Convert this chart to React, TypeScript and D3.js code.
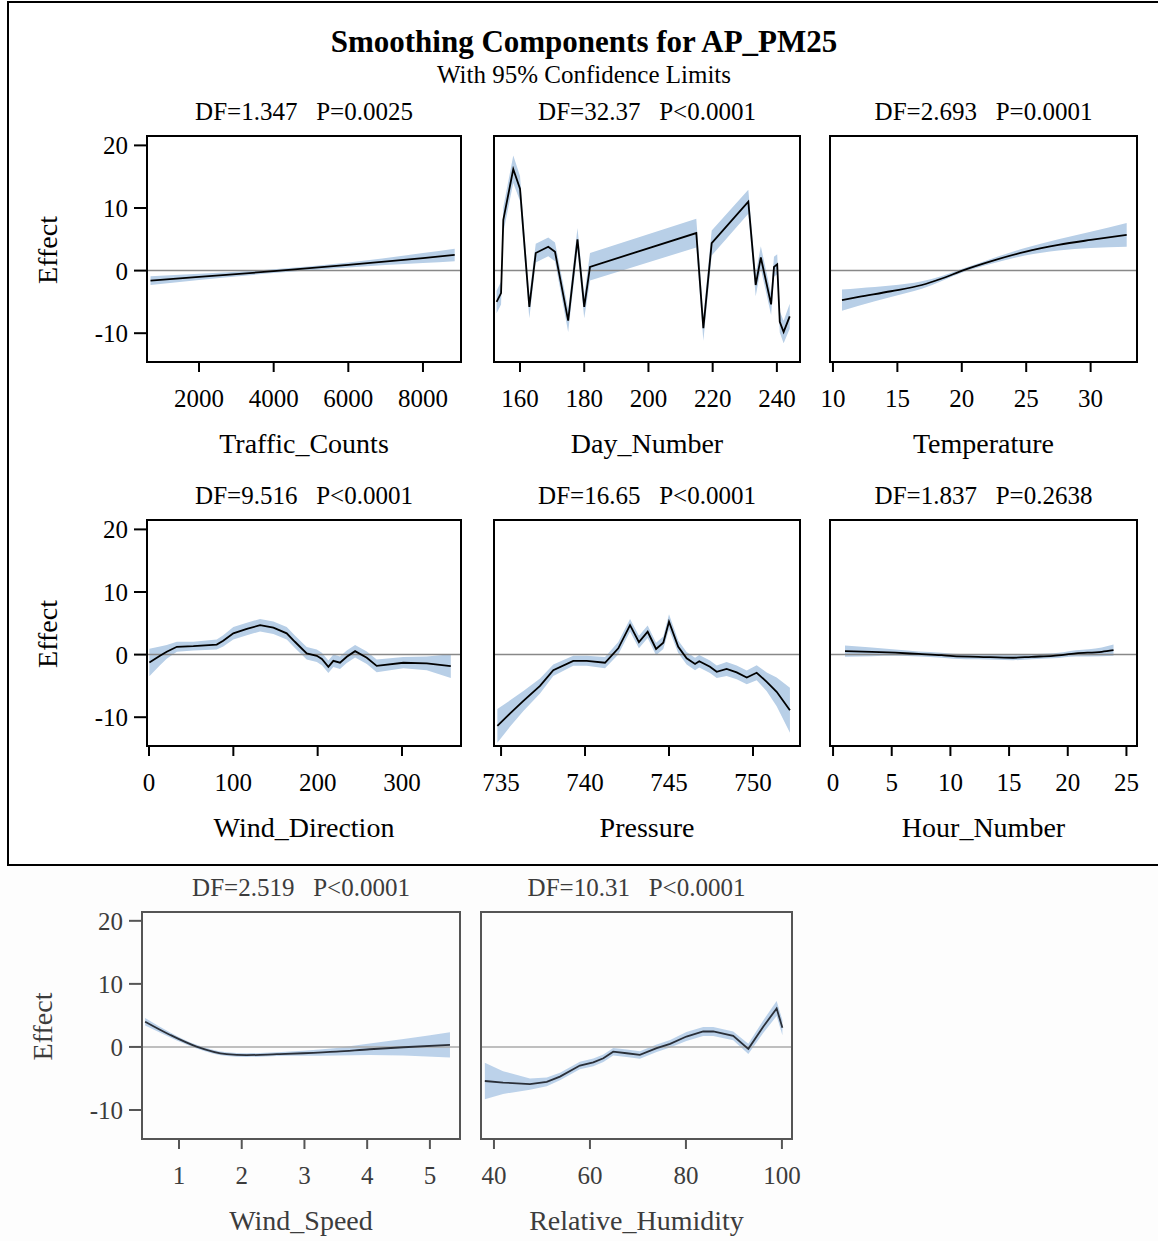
import React from "react";
import * as d3 from "d3";

// ---------- data ----------
const trafficX = [700, 2000, 4000, 6000, 8000, 8850];
const trafficY = [-1.6, -1.0, -0.1, 0.9, 2.0, 2.5];
const trafficCI = [0.7, 0.5, 0.3, 0.4, 0.8, 1.0];

const dayX = [152.7, 154.1, 154.8, 157.9, 160, 162.9, 164.9, 168.8, 170.9, 175, 177.9, 180, 181.8, 214.9, 217.1, 219.7, 231.1, 233.4, 235, 238.2, 239.1, 240.1, 240.9, 242.1, 244];
const dayY = [-5, -3.6, 8.1, 16.2, 13.1, -5.8, 2.8, 3.8, 3.0, -8.0, 5.0, -5.8, 0.6, 6.0, -9.2, 4.4, 11.0, -2.3, 2.1, -5.4, 0.6, 1.0, -8.2, -9.8, -7.3];
const dayCI = [1.8, 1.8, 2, 2.2, 2, 1.8, 1.5, 1.5, 1.5, 1.8, 1.8, 1.8, 2.2, 2.3, 2, 2, 1.9, 1.8, 1.8, 1.7, 1.6, 1.6, 1.7, 1.8, 2.0];

const tempX = [10.7, 12.0, 14.5, 16.9, 18.4, 20.2, 22.3, 24.9, 27.5, 30.0, 32.8];
const tempY = [-4.7, -4.2, -3.3, -2.3, -1.3, 0.1, 1.5, 3.0, 4.1, 4.9, 5.7];
const tempCI = [1.7, 1.4, 0.9, 0.6, 0.4, 0.3, 0.4, 0.6, 0.9, 1.3, 1.9];

const windDirX = [0.4, 13, 21, 33, 52.6, 80.3, 88, 100, 116, 131.7, 147.5, 163.3, 173, 187, 199, 205, 212.7, 218.6, 226.5, 234.5, 244.4, 258.3, 270, 301.7, 329.4, 357.9];
const windDirY = [-1.25, -0.2, 0.45, 1.25, 1.35, 1.6, 2.2, 3.4, 4.1, 4.7, 4.3, 3.4, 2.05, 0.2, -0.2, -0.7, -1.95, -1.0, -1.3, -0.35, 0.55, -0.5, -1.8, -1.3, -1.4, -1.85];
const windDirCI = [2.2, 1.5, 1.1, 0.8, 0.7, 0.8, 0.9, 1.0, 1.0, 1.0, 1.0, 1.0, 1.0, 1.0, 1.0, 1.0, 1.0, 1.0, 1.0, 1.0, 1.0, 1.0, 1.0, 0.9, 1.1, 1.9];

const pressX = [734.78, 735.54, 736.33, 737.32, 738.11, 739.3, 740.1, 741.19, 741.98, 742.68, 743.21, 743.73, 744.23, 744.66, 745, 745.55, 746.05, 746.55, 746.8, 747.44, 747.84, 748.43, 749.03, 749.63, 750.22, 750.82, 751.41, 752.2];
const pressY = [-11.4, -9.4, -7.4, -5.0, -2.5, -1.0, -1.0, -1.3, 1.0, 4.7, 2.0, 3.65, 0.9, 1.9, 5.25, 1.25, -0.6, -1.5, -1.05, -1.95, -2.75, -2.3, -2.85, -3.65, -2.9, -4.35, -5.95, -8.9];
const pressCI = [2.7, 2.1, 1.6, 1.2, 0.9, 0.8, 0.8, 0.9, 1.0, 1.0, 1.0, 1.0, 1.0, 1.0, 1.2, 1.0, 1.0, 1.0, 1.0, 1.0, 1.0, 1.1, 1.1, 1.1, 1.2, 1.5, 2.3, 3.6];

const hourX = [1.02, 3.3, 5.3, 7.3, 9.25, 10.25, 12.4, 15.35, 16.9, 18.75, 20.7, 22.9, 23.9];
const hourY = [0.55, 0.45, 0.3, 0.1, -0.1, -0.25, -0.35, -0.5, -0.35, -0.2, 0.2, 0.45, 0.7];
const hourCI = [0.9, 0.7, 0.5, 0.4, 0.4, 0.4, 0.4, 0.4, 0.4, 0.4, 0.5, 0.7, 0.9];

const windSpX = [0.46, 0.86, 1.28, 1.76, 2.08, 2.56, 2.98, 3.51, 4.04, 4.58, 5.32];
const windSpY = [4.0, 1.9, 0.05, -1.15, -1.3, -1.15, -1.0, -0.75, -0.37, -0.05, 0.32];
const windSpCI = [0.6, 0.4, 0.3, 0.3, 0.3, 0.3, 0.4, 0.6, 0.9, 1.3, 2.0];

const humX = [38.1, 41.9, 47.5, 51.0, 53.75, 57.9, 60.7, 62.8, 64.85, 67.65, 70.4, 73.9, 76.7, 80.1, 83.6, 85.7, 89.85, 93.0, 96.1, 98.9, 100.1];
const humY = [-5.4, -5.65, -5.9, -5.55, -4.7, -2.95, -2.45, -1.8, -0.75, -1.0, -1.27, -0.2, 0.5, 1.65, 2.45, 2.45, 1.75, -0.3, 3.2, 6.1, 3.05];
const humCI = [2.9, 1.8, 0.9, 0.7, 0.6, 0.6, 0.6, 0.6, 0.6, 0.6, 0.6, 0.6, 0.6, 0.7, 0.7, 0.7, 0.7, 0.8, 1.0, 1.2, 1.2];

const yTickValues = [-10, 0, 10, 20];

// ---------- layout ----------
type Panel = {
  left: number; right: number; top: number; bottom: number;
  xDomain: [number, number]; yDomain: [number, number];
  xTicks: number[]; xs: number[]; ys: number[]; ci: number[];
  df: string; xlabel: string; faded?: boolean; showY?: boolean; smooth?: boolean;
};

const FONT = "'Liberation Serif', 'Times New Roman', serif";

const panels: Panel[] = [
  { left: 147, right: 461, top: 136, bottom: 362, xDomain: [606, 9019], yDomain: [-14.6, 21.5], xTicks: [2000, 4000, 6000, 8000], xs: trafficX, ys: trafficY, ci: trafficCI, df: "DF=1.347   P=0.0025", xlabel: "Traffic_Counts", showY: true, smooth: true },
  { left: 494, right: 800, top: 136, bottom: 362, xDomain: [151.9, 247.2], yDomain: [-14.6, 21.5], xTicks: [160, 180, 200, 220, 240], xs: dayX, ys: dayY, ci: dayCI, df: "DF=32.37   P<0.0001", xlabel: "Day_Number" },
  { left: 830, right: 1137, top: 136, bottom: 362, xDomain: [9.77, 33.6], yDomain: [-14.6, 21.5], xTicks: [10, 15, 20, 25, 30], xs: tempX, ys: tempY, ci: tempCI, df: "DF=2.693   P=0.0001", xlabel: "Temperature", smooth: true },
  { left: 147, right: 461, top: 520, bottom: 746, xDomain: [-2.4, 370], yDomain: [-14.6, 21.5], xTicks: [0, 100, 200, 300], xs: windDirX, ys: windDirY, ci: windDirCI, df: "DF=9.516   P<0.0001", xlabel: "Wind_Direction", showY: true },
  { left: 494, right: 800, top: 520, bottom: 746, xDomain: [734.58, 752.8], yDomain: [-14.6, 21.5], xTicks: [735, 740, 745, 750], xs: pressX, ys: pressY, ci: pressCI, df: "DF=16.65   P<0.0001", xlabel: "Pressure" },
  { left: 830, right: 1137, top: 520, bottom: 746, xDomain: [-0.26, 25.9], yDomain: [-14.6, 21.5], xTicks: [0, 5, 10, 15, 20, 25], xs: hourX, ys: hourY, ci: hourCI, df: "DF=1.837   P=0.2638", xlabel: "Hour_Number", smooth: true },
  { left: 142, right: 460, top: 912, bottom: 1139, xDomain: [0.41, 5.48], yDomain: [-14.6, 21.4], xTicks: [1, 2, 3, 4, 5], xs: windSpX, ys: windSpY, ci: windSpCI, df: "DF=2.519   P<0.0001", xlabel: "Wind_Speed", faded: true, showY: true, smooth: true },
  { left: 481, right: 792, top: 912, bottom: 1139, xDomain: [37.3, 102.1], yDomain: [-14.6, 21.4], xTicks: [40, 60, 80, 100], xs: humX, ys: humY, ci: humCI, df: "DF=10.31   P<0.0001", xlabel: "Relative_Humidity", faded: true },
];

function PanelView({ p }: { p: Panel }) {
  const x = d3.scaleLinear().domain(p.xDomain).range([p.left, p.right]);
  const y = d3.scaleLinear().domain(p.yDomain).range([p.bottom, p.top]);
  const idx = p.xs.map((_, i) => i);
  const curve = p.smooth ? d3.curveMonotoneX : d3.curveLinear;
  const line = d3.line<number>().x((i) => x(p.xs[i])).y((i) => y(p.ys[i])).curve(curve);
  const area = d3.area<number>().x((i) => x(p.xs[i])).y0((i) => y(p.ys[i] - p.ci[i])).y1((i) => y(p.ys[i] + p.ci[i])).curve(curve);
  const textCol = p.faded ? "#3c3c3c" : "#000";
  const frameCol = p.faded ? "#555" : "#000";
  const lineCol = p.faded ? "#2a2f38" : "#000";
  const cx = (p.left + p.right) / 2;
  const midY = (p.top + p.bottom) / 2;
  return (
    <g fontFamily={FONT} fill={textCol}>
      <text x={cx} y={p.top - 16} fontSize={25} textAnchor="middle" style={{ whiteSpace: "pre" }}>{p.df}</text>
      <path d={area(idx) || ""} fill={p.faded ? "#bcd2ea" : "#b8cfe7"} stroke="none" />
      <line x1={p.left} x2={p.right} y1={y(0)} y2={y(0)} stroke={p.faded ? "#aaa" : "#888"} strokeWidth={1.5} />
      <path d={line(idx) || ""} fill="none" stroke={lineCol} strokeWidth={1.8} />
      <rect x={p.left} y={p.top} width={p.right - p.left} height={p.bottom - p.top} fill="none" stroke={frameCol} strokeWidth={2} />
      {p.xTicks.map((t) => (
        <g key={t}>
          <line x1={x(t)} x2={x(t)} y1={p.bottom} y2={p.bottom + 10} stroke={frameCol} strokeWidth={2} />
          <text x={x(t)} y={p.bottom + 45} fontSize={25} textAnchor="middle">{t}</text>
        </g>
      ))}
      {p.showY && yTickValues.map((t) => (
        <g key={t}>
          <line x1={p.left - 13} x2={p.left} y1={y(t)} y2={y(t)} stroke={frameCol} strokeWidth={2} />
          <text x={p.left - 19} y={y(t) + 9} fontSize={25} textAnchor="end">{t}</text>
        </g>
      ))}
      {p.showY && (
        <text transform={`translate(${p.left - 90},${midY + 1}) rotate(-90)`} fontSize={28} textAnchor="middle">Effect</text>
      )}
      <text x={cx} y={p.bottom + 91} fontSize={28} textAnchor="middle">{p.xlabel}</text>
    </g>
  );
}

export default function App() {
  return (
    <svg width={1158} height={1241} style={{ position: "absolute", left: 0, top: 0, background: "#fff" }}>
      <rect x={0} y={0} width={1158} height={1241} fill="#fff" />
      <rect x={0} y={866} width={1158} height={375} fill="#fdfdfd" />
      <rect x={8} y={2} width={1160} height={863} fill="none" stroke="#000" strokeWidth={2} />
      <text x={584} y={52} fontFamily={FONT} fontSize={31} fontWeight="bold" textAnchor="middle">Smoothing Components for AP_PM25</text>
      <text x={584} y={83} fontFamily={FONT} fontSize={25} textAnchor="middle">With 95% Confidence Limits</text>
      {panels.map((p, i) => <PanelView key={i} p={p} />)}
    </svg>
  );
}
